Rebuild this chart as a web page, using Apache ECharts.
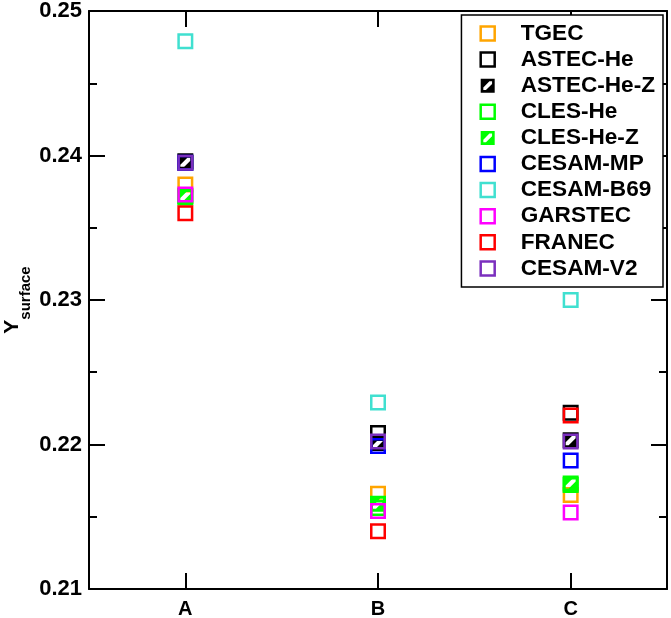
<!DOCTYPE html>
<html>
<head>
<meta charset="utf-8">
<script src="https://cdn.jsdelivr.net/npm/echarts@6/dist/echarts.min.js"></script>
<style>
  html, body { margin: 0; padding: 0; background: #fff; }
  #chart { width: 671px; height: 618px; }
</style>
</head>
<body>
<div id="chart"></div>
<script>
// 类别（横轴）
var categories = ['A', 'B', 'C'];

// 各模型的表面氦丰度
var tgec      = [0.2380, 0.2166, 0.2165];
var astecHe   = [0.2396, 0.2208, 0.2222];
var astecHeZ  = [0.2395, 0.2201, 0.2203];
var clesHe    = [0.2371, 0.2156, 0.2172];
var clesHeZ   = [0.2372, 0.2159, 0.2173];
var cesamMP   = [0.2395, 0.2199, 0.2189];
var cesamB69  = [0.2479, 0.2229, 0.2300];
var garstec   = [0.2373, 0.2154, 0.2153];
var franec    = [0.2360, 0.2140, 0.2220];
var cesamV2   = [0.2395, 0.2202, 0.2202];

// 纵轴刻度
var yMin = 0.21, yMax = 0.25, yStep = 0.01;

var font = 'Liberation Sans, Arial, Helvetica, sans-serif';
// 带斜纹的实心方块
var hatched = 'path://M0,0 L16,0 L16,16 L0,16 Z M3,10 L3,13 L6,13 L13,6 L13,3 L10,3 Z';

// 图例和系列共用：名称、数据、颜色、是否实心
var models = [
    ['TGEC', tgec, '#ffa500', false],
    ['ASTEC-He', astecHe, '#000000', false],
    ['ASTEC-He-Z', astecHeZ, '#000000', true],
    ['CLES-He', clesHe, '#00ff00', false],
    ['CLES-He-Z', clesHeZ, '#00ff00', true],
    ['CESAM-MP', cesamMP, '#0000ff', false],
    ['CESAM-B69', cesamB69, '#40e0d0', false],
    ['GARSTEC', garstec, '#ff00ff', false],
    ['FRANEC', franec, '#ff0000', false],
    ['CESAM-V2', cesamV2, '#7b2fbe', false]
];

function makeSeries(m) {
    if (m[3]) {
        return {
            name: m[0], type: 'scatter', data: m[1],
            symbol: hatched, symbolSize: 16,
            itemStyle: { color: m[2], borderWidth: 0, opacity: 1 },
            emphasis: { disabled: true }
        };
    }
    return {
        name: m[0], type: 'scatter', data: m[1],
        symbol: 'rect', symbolSize: 13.5,
        itemStyle: { color: 'rgba(0,0,0,0)', borderColor: m[2], borderWidth: 2.5, opacity: 1 },
        emphasis: { disabled: true }
    };
}
function makeLegendItem(m) {
    if (m[3]) return { name: m[0] };
    return { name: m[0], itemStyle: { color: 'rgba(0,0,0,0)', borderColor: m[2], borderWidth: 2.5 } };
}

var axisLine = { show: true, onZero: false, lineStyle: { color: '#000', width: 2 } };
var tick = { show: true, inside: true, length: 16, lineStyle: { color: '#000', width: 2 } };
var minor = { show: true, splitNumber: 2, length: 8, lineStyle: { color: '#000', width: 2 } };

var option = {
    animation: false,
    backgroundColor: '#fff',
    textStyle: { fontFamily: font },
    grid: { left: 89, right: 4, top: 11, bottom: 29, containLabel: false, outerBoundsMode: 'none' },
    legend: {
        orient: 'vertical',
        right: 8, top: 15,
        padding: [7, 8, 7, 18],
        itemWidth: 14, itemHeight: 14,
        itemGap: 3.1,
        backgroundColor: '#fff',
        borderColor: '#000', borderWidth: 1.5,
        textStyle: { color: '#000', fontSize: 22.6, fontWeight: 'bold', fontFamily: font,
                     lineHeight: 22, padding: [0, 0, 0, 21] },
        data: models.map(makeLegendItem)
    },
    xAxis: [{
        type: 'category', data: categories, position: 'bottom',
        axisLine: axisLine,
        axisTick: Object.assign({ alignWithLabel: true }, tick),
        axisLabel: { color: '#000', fontSize: 20, fontWeight: 'bold', margin: 10, fontFamily: font },
        splitLine: { show: false }
    }, {
        type: 'category', data: categories, position: 'top',
        axisLine: axisLine,
        axisTick: Object.assign({ alignWithLabel: true }, tick),
        axisLabel: { show: false },
        splitLine: { show: false }
    }],
    yAxis: [{
        type: 'value', min: yMin, max: yMax, interval: yStep, position: 'left',
        name: '{y|Y}{s|surface}',
        nameLocation: 'middle', nameGap: 56, nameRotate: 90,
        nameMoveOverlap: false,
        nameTextStyle: {
            rich: {
                y: { fontSize: 21, fontWeight: 'bold', color: '#000', fontFamily: font, lineHeight: 31, verticalAlign: 'top' },
                s: { fontSize: 15, fontWeight: 'bold', color: '#000', fontFamily: font, lineHeight: 31, verticalAlign: 'bottom' }
            }
        },
        axisLine: axisLine,
        axisTick: tick,
        minorTick: minor,
        axisLabel: { color: '#000', fontSize: 22, fontWeight: 'bold', margin: 7, fontFamily: font,
                     formatter: function (v) { return v.toFixed(2); } },
        splitLine: { show: false }
    }, {
        type: 'value', min: yMin, max: yMax, interval: yStep, position: 'right',
        axisLine: axisLine,
        axisTick: tick,
        minorTick: minor,
        axisLabel: { show: false },
        splitLine: { show: false }
    }],
    series: models.map(makeSeries)
};

var myechart = echarts.init(document.getElementById('chart'));
myechart.setOption(option);
</script>
</body>
</html>
